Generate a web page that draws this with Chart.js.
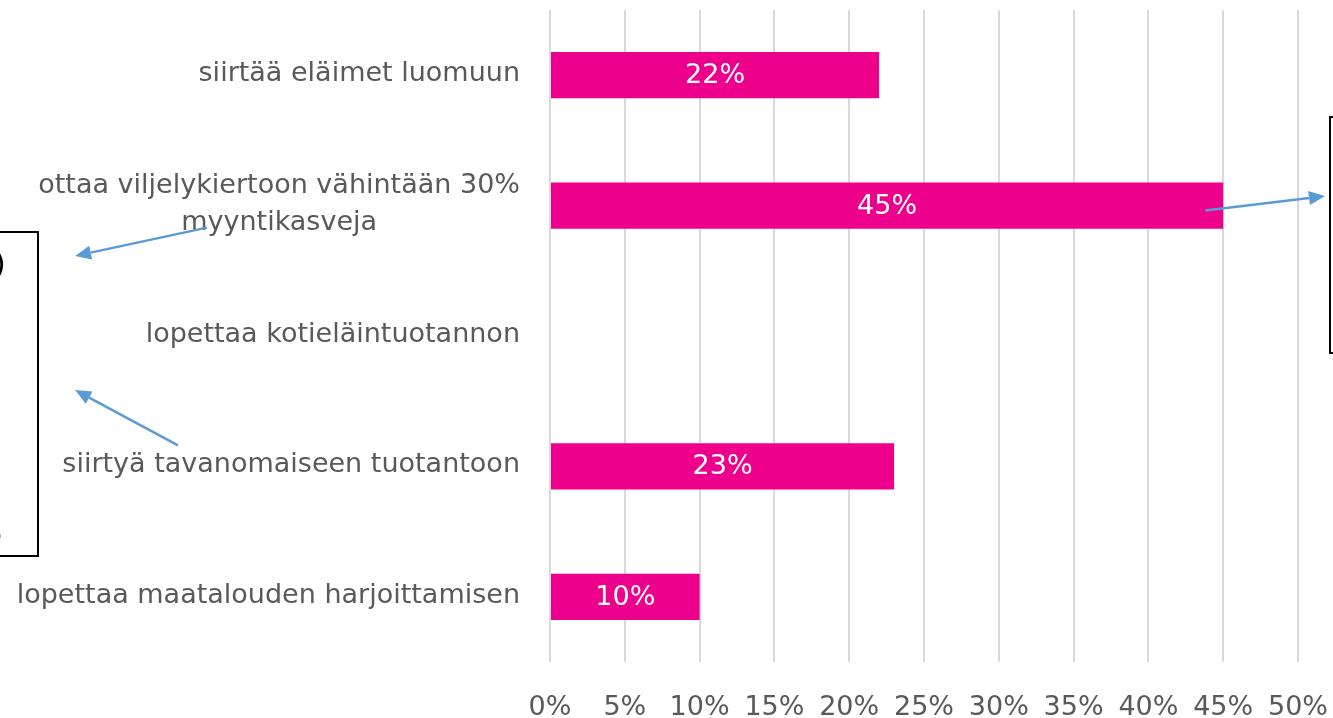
<!DOCTYPE html>
<html>
<head>
<meta charset="utf-8">
<script src="https://cdn.jsdelivr.net/npm/chart.js@4"></script>
<style>
    body { margin: 0; background: #fff; }
    #wrap { width: 1333px; height: 718px; position: relative; }
</style>
</head>
<body>
<div id="wrap"><canvas id="chart-toimenpiteet"></canvas></div>
<script>
// data
const kategoriat = [
    ["siirtää eläimet luomuun"],
    ["ottaa viljelykiertoon vähintään 30%", "myyntikasveja"],
    ["lopettaa kotieläintuotannon"],
    ["siirtyä tavanomaiseen tuotantoon"],
    ["lopettaa maatalouden harjoittamisen"],
];
const osuudet = [22, 45, null, 23, 10];
const xTicks = [0, 5, 10, 15, 20, 25, 30, 35, 40, 45, 50];

const harmaa = "#595959";
const pinkki = "#EC008C";
const nuoli = "#5B9BD5";
const fontti = "DejaVu Sans";

Chart.defaults.font.family = fontti;

// piirretään kategoriat itse, jotta monirivinen teksti keskittyy
const kategoriaPlugin = {
    id: "kategoriat",
    afterDraw(chart) {
        const ctx = chart.ctx;
        const y = chart.scales.y;
        ctx.save();
        ctx.font = "27px " + fontti;
        ctx.fillStyle = harmaa;
        ctx.textBaseline = "middle";
        ctx.textAlign = "center";
        kategoriat.forEach((rivit, i) => {
            const cy = y.getPixelForValue(i) - 1;
            const leveys = Math.max(...rivit.map(r => ctx.measureText(r).width));
            const cx = 520 - leveys / 2;
            const lh = 37;
            rivit.forEach((r, j) => {
                ctx.fillText(r, cx, cy + (j - (rivit.length - 1) / 2) * lh);
            });
        });
        ctx.restore();
    },
};

// arvot palkkien sisään
const arvoPlugin = {
    id: "arvot",
    afterDatasetsDraw(chart) {
        const ctx = chart.ctx;
        const meta = chart.getDatasetMeta(0);
        ctx.save();
        ctx.font = "27px " + fontti;
        ctx.fillStyle = "#fff";
        ctx.textAlign = "center";
        ctx.textBaseline = "middle";
        meta.data.forEach((bar, i) => {
            if (osuudet[i] == null) return;
            ctx.fillText(osuudet[i] + "%", (bar.x + bar.base) / 2, bar.y + 1);
        });
        ctx.restore();
    },
};

function piirraNuoli(ctx, x1, y1, x2, y2) {
    const kulma = Math.atan2(y2 - y1, x2 - x1);
    const pituus = 16;
    const bx = x2 - pituus * Math.cos(kulma);
    const by = y2 - pituus * Math.sin(kulma);
    ctx.beginPath();
    ctx.moveTo(x1, y1);
    ctx.lineTo(bx, by);
    ctx.stroke();
    ctx.beginPath();
    ctx.moveTo(x2, y2);
    ctx.lineTo(bx + 7 * Math.sin(kulma), by - 7 * Math.cos(kulma));
    ctx.lineTo(bx - 7 * Math.sin(kulma), by + 7 * Math.cos(kulma));
    ctx.closePath();
    ctx.fill();
}

// huomautuslaatikot ja nuolet (rajattu alkuperäisestä kuvasta)
const huomautusPlugin = {
    id: "huomautukset",
    afterDraw(chart) {
        const ctx = chart.ctx;
        const x = chart.scales.x;
        const y = chart.scales.y;
        ctx.save();
        ctx.strokeStyle = "#000";
        ctx.lineWidth = 2;
        ctx.strokeRect(-2, 232, 40, 324);
        ctx.strokeRect(1330, 117, 20, 236);
        ctx.fillStyle = "#000";
        ctx.font = "30px " + fontti;
        ctx.textBaseline = "middle";
        ctx.textAlign = "left";
        ctx.fillText(")", -6, 266);
        ctx.fillText(".", -6, 530);

        ctx.strokeStyle = nuoli;
        ctx.fillStyle = nuoli;
        ctx.lineWidth = 2.5;
        piirraNuoli(ctx, 207, y.getPixelForValue(1) + 22, 75, 256);
        piirraNuoli(ctx, 178, y.getPixelForValue(3) - 21, 75, 390);
        piirraNuoli(ctx, x.getPixelForValue(43.8), y.getPixelForValue(1) + 5, 1325, 196);
        ctx.restore();
    },
};

const dataToimenpiteet = {
    labels: kategoriat,
    datasets: [
        {
            data: osuudet,
            backgroundColor: pinkki,
            borderWidth: 0,
            categoryPercentage: 1,
            barPercentage: 0.355,
        },
    ],
};

const configToimenpiteet = {
    type: "bar",
    data: dataToimenpiteet,
    options: {
        indexAxis: "y",
        responsive: true,
        maintainAspectRatio: false,
        animation: false,
        layout: {
            padding: { top: 10, right: 35, left: 0, bottom: 0 },
        },
        plugins: {
            legend: { display: false },
            tooltip: { enabled: false },
        },
        scales: {
            x: {
                min: 0,
                max: 50,
                afterBuildTicks: (axis) => {
                    axis.ticks = xTicks.map(v => ({ value: v }));
                },
                afterFit: (axis) => {
                    axis.height = 56;
                    axis.paddingLeft = 0;
                    axis.paddingRight = 0;
                },
                ticks: {
                    color: harmaa,
                    font: { size: 27 },
                    padding: 30,
                    maxRotation: 0,
                    autoSkip: false,
                    callback: (value) => value + "%",
                },
                grid: {
                    color: "#D9D9D9",
                    lineWidth: 2,
                    drawTicks: false,
                },
                border: { display: false },
            },
            y: {
                afterFit: (axis) => {
                    axis.width = 550;
                },
                ticks: { display: false },
                grid: { display: false },
                border: { display: false },
            },
        },
    },
    plugins: [arvoPlugin, kategoriaPlugin, huomautusPlugin],
};

new Chart(document.getElementById("chart-toimenpiteet"), configToimenpiteet);
</script>
</body>
</html>
